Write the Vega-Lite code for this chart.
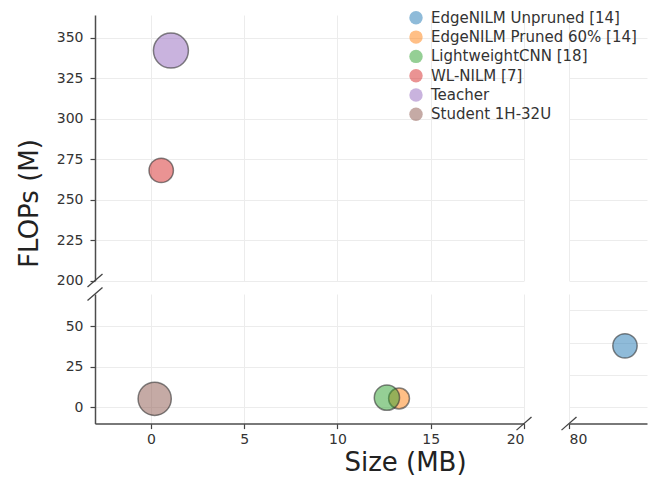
{
  "$schema": "https://vega.github.io/schema/vega-lite/v6.json",
  "background": "white",
  "padding": {"left": 16, "top": 10, "right": 5, "bottom": 5},
  "datasets": {
    "models": [
      {"model": "EdgeNILM Unpruned [14]", "size_mb": 83.0, "flops_m": 38},
      {"model": "EdgeNILM Pruned 60% [14]", "size_mb": 13.3, "flops_m": 5.5},
      {"model": "LightweightCNN [18]", "size_mb": 12.65, "flops_m": 6},
      {"model": "WL-NILM [7]", "size_mb": 0.55, "flops_m": 268},
      {"model": "Teacher", "size_mb": 1.07, "flops_m": 342},
      {"model": "Student 1H-32U", "size_mb": 0.2, "flops_m": 5.3}
    ]
  },
  "config": {
    "view": {"stroke": null},
    "font": "DejaVu Sans",
    "axis": {
      "labelFont": "DejaVu Sans", "labelFontSize": 14, "labelColor": "#333",
      "tickColor": "#444", "tickSize": 5, "tickWidth": 1.2,
      "domainColor": "#4d4d4d", "domainWidth": 1.5,
      "gridColor": "#ececec", "gridWidth": 1,
      "titleFont": "DejaVu Sans", "titleFontSize": 26, "titleFontWeight": "normal", "titleColor": "#222"
    },
    "legend": {
      "labelFont": "DejaVu Sans", "labelFontSize": 15, "labelColor": "#333", "labelLimit": 400,
      "symbolType": "circle", "symbolSize": 180, "symbolOpacity": 0.5, "symbolStrokeWidth": 0,
      "rowPadding": 3.3, "labelOffset": 7.5, "padding": 0
    }
  },
  "columns": 2,
  "align": "each",
  "bounds": "flush",
  "spacing": {"row": 13, "column": 45},
  "resolve": {"scale": {"x": "independent", "y": "independent"}},
  "concat": [
    {
      "width": 429, "height": 265.5,
      "layer": [
        {
          "data": {"name": "models"},
          "mark": {"type": "point", "filled": true, "clip": true, "opacity": 1, "fillOpacity": 0.5, "stroke": "#333", "strokeOpacity": 0.6, "strokeWidth": 1.5},
          "encoding": {
            "x": {"field": "size_mb", "type": "quantitative", "scale": {"domain": [-3, 20], "nice": false, "zero": false},
                  "axis": {"values": [0, 5, 10, 15, 20], "labels": false, "ticks": false, "domain": false, "title": null, "grid": true}},
            "y": {"field": "flops_m", "type": "quantitative", "scale": {"domain": [200, 364], "nice": false, "zero": false},
                  "axis": {"values": [200, 225, 250, 275, 300, 325, 350], "grid": true, "labelPadding": 7, "title": "FLOPs (M)", "titleX": -66, "titleY": 188, "titleAngle": -90, "titleAlign": "center", "titleBaseline": "middle"}},
            "color": {"field": "model", "type": "nominal",
                      "scale": {"domain": ["EdgeNILM Unpruned [14]", "EdgeNILM Pruned 60% [14]", "LightweightCNN [18]", "WL-NILM [7]", "Teacher", "Student 1H-32U"],
                                "range": ["#1f77b4", "#ff7f0e", "#2ca02c", "#d62728", "#9467bd", "#8c564b"]},
                      "legend": {"title": null, "orient": "none", "legendX": 313.5, "legendY": -4.7, "symbolSize": 180}},
            "size": {"condition": [
                       {"test": "datum.model === 'Teacher'", "value": 1225},
                       {"test": "datum.model === 'Student 1H-32U'", "value": 1104},
                       {"test": "datum.model === 'LightweightCNN [18]'", "value": 638},
                       {"test": "datum.model === 'EdgeNILM Pruned 60% [14]'", "value": 434}],
                     "value": 594}
          }
        },
        {
          "data": {"values": [{}]},
          "mark": {"type": "point", "shape": "M-1,0.87L1,-0.87", "filled": false, "size": 225, "color": "#444", "strokeWidth": 1.3, "opacity": 1, "clip": false},
          "encoding": {"x": {"datum": -3}, "y": {"datum": 200}}
        }
      ]
    },
    {
      "width": 78, "height": 265.5,
      "layer": [
        {
          "data": {"name": "models"},
          "mark": {"type": "point", "filled": true, "clip": true, "opacity": 1, "fillOpacity": 0.5, "stroke": "#333", "strokeOpacity": 0.6, "strokeWidth": 1.5},
          "encoding": {
            "x": {"field": "size_mb", "type": "quantitative", "scale": {"domain": [80, 84.18], "nice": false, "zero": false},
                  "axis": {"values": [80], "labels": false, "ticks": false, "domain": false, "title": null, "grid": true}},
            "y": {"field": "flops_m", "type": "quantitative", "scale": {"domain": [200, 364], "nice": false, "zero": false},
                  "axis": {"values": [200, 225, 250, 275, 300, 325, 350], "labels": false, "ticks": false, "domain": false, "title": null, "grid": true}},
            "color": {"field": "model", "type": "nominal",
                      "scale": {"domain": ["EdgeNILM Unpruned [14]", "EdgeNILM Pruned 60% [14]", "LightweightCNN [18]", "WL-NILM [7]", "Teacher", "Student 1H-32U"],
                                "range": ["#1f77b4", "#ff7f0e", "#2ca02c", "#d62728", "#9467bd", "#8c564b"]},
                      "legend": {"title": null, "orient": "none", "legendX": 313.5, "legendY": -4.7, "symbolSize": 180}},
            "size": {"condition": [
                       {"test": "datum.model === 'Teacher'", "value": 1225},
                       {"test": "datum.model === 'Student 1H-32U'", "value": 1104},
                       {"test": "datum.model === 'LightweightCNN [18]'", "value": 638},
                       {"test": "datum.model === 'EdgeNILM Pruned 60% [14]'", "value": 434}],
                     "value": 594}
          }
        }
      ]
    },
    {
      "width": 429, "height": 129.6,
      "layer": [
        {
          "data": {"name": "models"},
          "mark": {"type": "point", "filled": true, "clip": true, "opacity": 1, "fillOpacity": 0.5, "stroke": "#333", "strokeOpacity": 0.6, "strokeWidth": 1.5},
          "encoding": {
            "x": {"field": "size_mb", "type": "quantitative", "scale": {"domain": [-3, 20], "nice": false, "zero": false},
                  "axis": {"values": [0, 5, 10, 15, 20], "grid": true, "labelPadding": 4, "title": "Size (MB)", "titleX": 310, "titleY": 47, "titleAlign": "center", "titleBaseline": "alphabetic"}},
            "y": {"field": "flops_m", "type": "quantitative", "scale": {"domain": [-10, 70], "nice": false, "zero": false},
                  "axis": {"values": [0, 25, 50], "grid": true, "labelPadding": 7, "title": null}},
            "color": {"field": "model", "type": "nominal",
                      "scale": {"domain": ["EdgeNILM Unpruned [14]", "EdgeNILM Pruned 60% [14]", "LightweightCNN [18]", "WL-NILM [7]", "Teacher", "Student 1H-32U"],
                                "range": ["#1f77b4", "#ff7f0e", "#2ca02c", "#d62728", "#9467bd", "#8c564b"]},
                      "legend": {"title": null, "orient": "none", "legendX": 313.5, "legendY": -4.7, "symbolSize": 180}},
            "size": {"condition": [
                       {"test": "datum.model === 'Teacher'", "value": 1225},
                       {"test": "datum.model === 'Student 1H-32U'", "value": 1104},
                       {"test": "datum.model === 'LightweightCNN [18]'", "value": 638},
                       {"test": "datum.model === 'EdgeNILM Pruned 60% [14]'", "value": 434}],
                     "value": 594}
          }
        },
        {
          "data": {"values": [{}]},
          "mark": {"type": "point", "shape": "M-1,0.87L1,-0.87", "filled": false, "size": 225, "color": "#444", "strokeWidth": 1.3, "opacity": 1, "clip": false},
          "encoding": {"x": {"datum": -3}, "y": {"datum": 70}}
        },
        {
          "data": {"values": [{}]},
          "mark": {"type": "point", "shape": "M-1,0.87L1,-0.87", "filled": false, "size": 225, "color": "#444", "strokeWidth": 1.3, "opacity": 1, "clip": false},
          "encoding": {"x": {"datum": 20}, "y": {"datum": -10}}
        }
      ]
    },
    {
      "width": 78, "height": 129.6,
      "layer": [
        {
          "data": {"name": "models"},
          "mark": {"type": "point", "filled": true, "clip": true, "opacity": 1, "fillOpacity": 0.5, "stroke": "#333", "strokeOpacity": 0.6, "strokeWidth": 1.5},
          "encoding": {
            "x": {"field": "size_mb", "type": "quantitative", "scale": {"domain": [80, 84.18], "nice": false, "zero": false},
                  "axis": {"values": [80], "grid": true, "labelPadding": 4, "title": null}},
            "y": {"field": "flops_m", "type": "quantitative", "scale": {"domain": [-10, 70], "nice": false, "zero": false},
                  "axis": {"values": [0, 20, 40, 60], "labels": false, "ticks": false, "domain": false, "title": null, "grid": true}},
            "color": {"field": "model", "type": "nominal",
                      "scale": {"domain": ["EdgeNILM Unpruned [14]", "EdgeNILM Pruned 60% [14]", "LightweightCNN [18]", "WL-NILM [7]", "Teacher", "Student 1H-32U"],
                                "range": ["#1f77b4", "#ff7f0e", "#2ca02c", "#d62728", "#9467bd", "#8c564b"]},
                      "legend": {"title": null, "orient": "none", "legendX": 313.5, "legendY": -4.7, "symbolSize": 180}},
            "size": {"condition": [
                       {"test": "datum.model === 'Teacher'", "value": 1225},
                       {"test": "datum.model === 'Student 1H-32U'", "value": 1104},
                       {"test": "datum.model === 'LightweightCNN [18]'", "value": 638},
                       {"test": "datum.model === 'EdgeNILM Pruned 60% [14]'", "value": 434}],
                     "value": 594}
          }
        },
        {
          "data": {"values": [{}]},
          "mark": {"type": "point", "shape": "M-1,0.87L1,-0.87", "filled": false, "size": 225, "color": "#444", "strokeWidth": 1.3, "opacity": 1, "clip": false},
          "encoding": {"x": {"datum": 80}, "y": {"datum": -10}}
        }
      ]
    }
  ]
}
